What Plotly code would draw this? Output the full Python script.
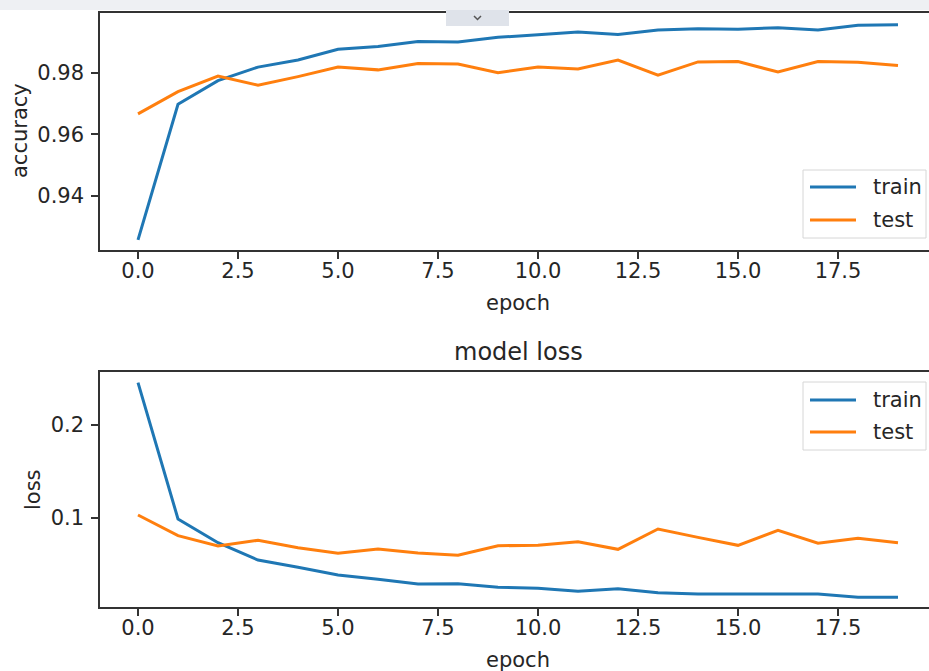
import plotly.graph_objects as go

epochs = list(range(20))
acc_train = [0.9257, 0.9698, 0.9775, 0.9819, 0.9842, 0.9877, 0.9886, 0.9902, 0.9901, 0.9916,
             0.9924, 0.9933, 0.9925, 0.9940, 0.9944, 0.9942, 0.9947, 0.9940, 0.9955, 0.9957]
acc_test = [0.9667, 0.9739, 0.9790, 0.9760, 0.9788, 0.9819, 0.9810, 0.9831, 0.9829, 0.9801,
            0.9819, 0.9813, 0.9842, 0.9793, 0.9836, 0.9837, 0.9803, 0.9837, 0.9835, 0.9824]
loss_train = [0.2455, 0.0990, 0.0734, 0.0548, 0.0470, 0.0387, 0.0341, 0.0290, 0.0294, 0.0255,
              0.0244, 0.0212, 0.0240, 0.0197, 0.0183, 0.0183, 0.0187, 0.0183, 0.0147, 0.0147]
loss_test = [0.1032, 0.0810, 0.0699, 0.0760, 0.0680, 0.0620, 0.0667, 0.0624, 0.0599, 0.0702,
             0.0706, 0.0745, 0.0663, 0.0882, 0.0792, 0.0706, 0.0868, 0.0728, 0.0782, 0.0734]

x_ticks = [0, 2.5, 5, 7.5, 10, 12.5, 15, 17.5]
x_tick_labels = ["0.0", "2.5", "5.0", "7.5", "10.0", "12.5", "15.0", "17.5"]
acc_ticks = [0.94, 0.96, 0.98]
acc_tick_labels = ["0.94", "0.96", "0.98"]
loss_ticks = [0.1, 0.2]
loss_tick_labels = ["0.1", "0.2"]
series_names = ["train", "test"]

BLUE = "#1f77b4"
ORANGE = "#ff7f0e"
COLORS = [BLUE, ORANGE]
FONT = "DejaVu Sans"
TXT = "#262626"

fig = go.Figure()
fig.add_trace(go.Scatter(x=epochs, y=acc_train, mode="lines", name=series_names[0],
                         line=dict(color=BLUE, width=3), xaxis="x", yaxis="y"))
fig.add_trace(go.Scatter(x=epochs, y=acc_test, mode="lines", name=series_names[1],
                         line=dict(color=ORANGE, width=3), xaxis="x", yaxis="y"))
fig.add_trace(go.Scatter(x=epochs, y=loss_train, mode="lines", name=series_names[0],
                         line=dict(color=BLUE, width=3), xaxis="x2", yaxis="y2"))
fig.add_trace(go.Scatter(x=epochs, y=loss_test, mode="lines", name=series_names[1],
                         line=dict(color=ORANGE, width=3), xaxis="x2", yaxis="y2"))

W, H = 929, 671
ML, MR, MT, MB = 100, 0, 13, 64
PH = H - MT - MB
PW = W - ML - MR


def py(px):
    return (H - MB - px) / PH


def pxx(px):
    return (px - ML) / PW


axis_common = dict(showgrid=False, zeroline=False, showline=True, linecolor="#333333", linewidth=1.5,
                   ticks="outside", ticklen=7, tickwidth=1.5, tickcolor="#333333", automargin=False,
                   tickfont=dict(family=FONT, size=21, color=TXT))
x_common = dict(ticklabelstandoff=-6, **axis_common)
y_common = dict(ticklabelstandoff=3, **axis_common)

fig.update_layout(
    width=W, height=H,
    margin=dict(l=ML, r=MR, t=MT, b=MB, autoexpand=False),
    paper_bgcolor="white", plot_bgcolor="white",
    font=dict(family=FONT, color=TXT),
    showlegend=False,
    xaxis=dict(domain=[0, 1], anchor="y", range=[-0.95, 19.775], tickvals=x_ticks, ticktext=x_tick_labels,
               mirror=True, **x_common),
    yaxis=dict(domain=[py(250), 1], anchor="x", range=[0.9224, 0.9995], tickvals=acc_ticks,
               ticktext=acc_tick_labels, **y_common),
    xaxis2=dict(domain=[0, 1], anchor="y2", range=[-0.95, 19.775], tickvals=x_ticks, ticktext=x_tick_labels,
                mirror=True, **x_common),
    yaxis2=dict(domain=[0, py(372)], anchor="x2", range=[0.0043, 0.257], tickvals=loss_ticks,
                ticktext=loss_tick_labels, **y_common),
)

ann_font = dict(family=FONT, size=21, color=TXT)
fig.add_annotation(text="accuracy", xref="paper", yref="paper", x=pxx(20), y=py(131),
                   textangle=-90, showarrow=False, font=ann_font, xanchor="center", yanchor="middle")
fig.add_annotation(text="epoch", xref="paper", yref="paper", x=pxx(518), y=py(303),
                   showarrow=False, font=ann_font, xanchor="center", yanchor="middle")
fig.add_annotation(text="model loss", xref="paper", yref="paper", x=pxx(518), y=py(352),
                   showarrow=False, font=dict(family=FONT, size=24, color=TXT), xanchor="center", yanchor="middle")
fig.add_annotation(text="loss", xref="paper", yref="paper", x=pxx(33), y=py(490),
                   textangle=-90, showarrow=False, font=ann_font, xanchor="center", yanchor="middle")
fig.add_annotation(text="epoch", xref="paper", yref="paper", x=pxx(518), y=py(660),
                   showarrow=False, font=ann_font, xanchor="center", yanchor="middle")


# legends (matplotlib-style boxes)
def add_legend(top, bottom, rows):
    fig.add_shape(type="rect", xref="paper", yref="paper", x0=pxx(803), x1=pxx(926), y0=py(bottom), y1=py(top),
                  fillcolor="rgba(255,255,255,0.85)", line=dict(color="#d6d6d6", width=1), layer="above")
    for name, color, yc in rows:
        fig.add_shape(type="line", xref="paper", yref="paper", x0=pxx(810), x1=pxx(856), y0=py(yc), y1=py(yc),
                      line=dict(color=color, width=3), layer="above")
        fig.add_annotation(text=name, xref="paper", yref="paper", x=pxx(871), y=py(yc), showarrow=False,
                           xanchor="left", yanchor="middle", font=ann_font)


add_legend(170, 238, [(series_names[0], COLORS[0], 187), (series_names[1], COLORS[1], 220)])
add_legend(382, 450, [(series_names[0], COLORS[0], 400), (series_names[1], COLORS[1], 432)])

# top browser-like strip and tab
fig.add_shape(type="rect", xref="paper", yref="paper", x0=pxx(0), x1=pxx(929), y0=py(10), y1=py(0),
              fillcolor="#eef0f3", line=dict(width=0), layer="above")
fig.add_shape(type="rect", xref="paper", yref="paper", x0=pxx(446), x1=pxx(509), y0=py(26), y1=py(10),
              fillcolor="#dfe3ea", line=dict(width=0), layer="above")
fig.add_shape(type="path", xref="paper", yref="paper",
              path=f"M {pxx(474)},{py(16)} L {pxx(477.5)},{py(19.5)} L {pxx(481)},{py(16)}",
              line=dict(color="#555555", width=1.5), layer="above")

fig.write_html("out.html", config={"displayModeBar": False},
               post_script="document.body.style.margin='0';document.body.style.overflow='hidden';")
